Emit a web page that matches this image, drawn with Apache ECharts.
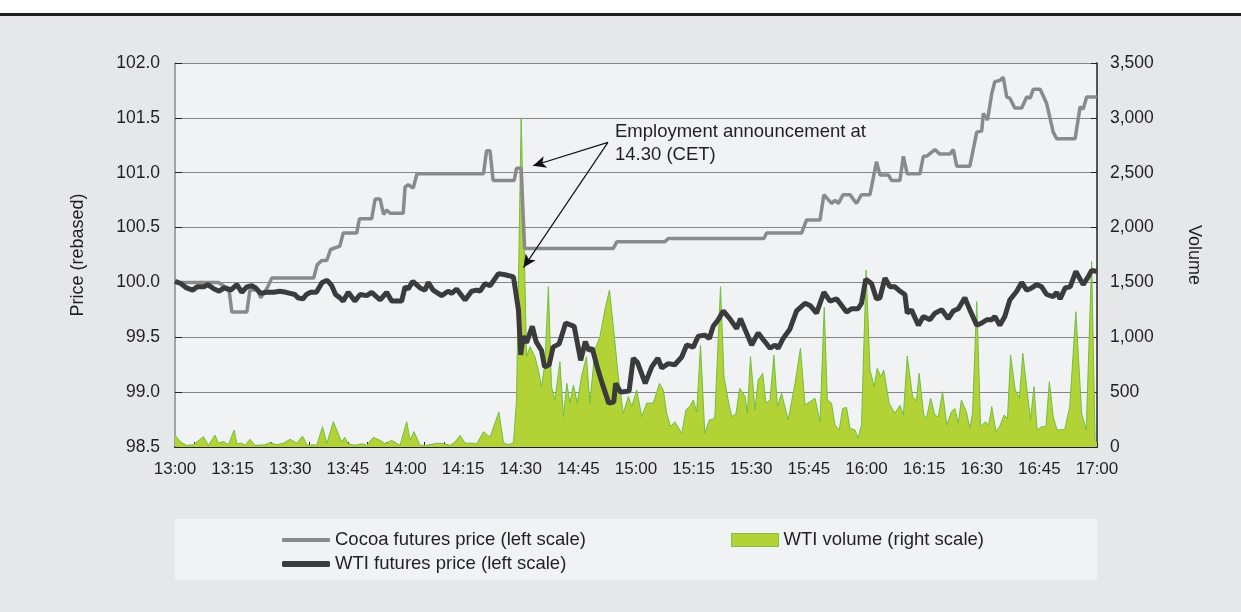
<!DOCTYPE html>
<html>
<head>
<meta charset="utf-8">
<script src="https://cdn.jsdelivr.net/npm/echarts@6/dist/echarts.min.js"></script>
<style>
  html, body { margin: 0; padding: 0; background: #fff; }
  #chart { width: 1241px; height: 612px; }
</style>
</head>
<body>
<div id="chart"></div>
<script>
// minutes after 13:00
const timeLabels = ['13:00', '13:15', '13:30', '13:45', '14:00', '14:15', '14:30', '14:45', '15:00',
  '15:15', '15:30', '15:45', '16:00', '16:15', '16:30', '16:45', '17:00']

const cocoaTimes = [0, 11.3, 13.0, 14.0, 14.8, 18.7, 19.5, 21.5, 22.3, 24.0, 25.2, 36.1, 37.0, 38.2, 39.5,
  40.5, 42.9, 43.8, 47.3, 48.0, 51.2, 52.1, 53.4, 54.3, 55.1, 56.0, 59.4, 59.9, 60.7, 62.0, 63.0, 80.3,
  81.1, 82.0, 82.8, 88.3, 88.9, 90.1, 91.0, 114.1, 115.0, 127.5, 128.4, 153.3, 154.0, 163.1, 164.4, 167.9,
  168.9, 170.9, 171.8, 172.7, 173.9, 175.7, 177.4, 178.7, 180.9, 182.6, 183.5, 185.7, 186.5, 188.7, 189.6,
  190.6, 193.9, 194.8, 195.6, 197.8, 199.1, 201.7, 202.6, 203.5, 206.9, 208.7, 210.0, 210.4, 211.5, 212.6,
  213.4, 214.7, 215.6, 216.5, 217.3, 218.6, 220.4, 221.7, 222.6, 223.4, 225.2, 226.9, 228.6, 229.5, 234.3,
  235.6, 236.4, 237.3, 240]
const cocoaPrices = [100.00, 100.00, 99.96, 99.95, 99.73, 99.73, 99.93, 99.93, 99.86, 99.95, 100.04, 100.04,
  100.16, 100.20, 100.20, 100.30, 100.33, 100.45, 100.45, 100.58, 100.58, 100.76, 100.76, 100.62, 100.66,
  100.63, 100.63, 100.87, 100.89, 100.86, 100.99, 100.99, 101.20, 101.20, 100.93, 100.93, 101.04, 101.04,
  100.31, 100.31, 100.37, 100.37, 100.40, 100.40, 100.45, 100.45, 100.57, 100.57, 100.80, 100.72, 100.75,
  100.72, 100.80, 100.80, 100.72, 100.80, 100.80, 101.10, 100.98, 100.98, 100.93, 100.93, 101.15, 100.99,
  100.99, 101.15, 101.15, 101.21, 101.17, 101.17, 101.21, 101.06, 101.06, 101.37, 101.38, 101.54, 101.48,
  101.72, 101.83, 101.84, 101.87, 101.69, 101.68, 101.59, 101.59, 101.69, 101.68, 101.76, 101.76, 101.63,
  101.37, 101.31, 101.31, 101.60, 101.58, 101.69, 101.69]

const wtiTimes = [0, 1.5, 3, 4.6, 5.8, 7.5, 8.5, 10.2, 11.5, 12.8, 14.5, 16.1, 17.4, 18.7, 20, 21, 22.3, 23.8,
  25.7, 27.3, 28.9, 31.2, 32, 33.3, 34.2, 35.3, 36.8, 38.3, 39.6, 40.8, 41.8, 42.9, 43.8, 45.1, 46.8, 48.2,
  49.9, 51.2, 53.4, 55.1, 56.4, 59.0, 59.9, 60.7, 61.9, 63.8, 65.1, 65.9, 67.2, 69.4, 71.1, 72.0, 73.3, 75.5,
  77.2, 78.5, 79.4, 80.7, 82.0, 84.2, 85.9, 88.1, 89.4, 90.0, 90.6, 91.5, 93.0, 94.0, 95.4, 96.2, 97.4, 98.4,
  100.0, 101.7, 103.9, 105.6, 106.8, 107.7, 108.6, 109.9, 111.2, 112.9, 114.2, 114.7, 116.0, 118.2, 119.3,
  120.4, 122.4, 124.1, 125.7, 126.7, 128.4, 130.1, 131.9, 133.2, 134.9, 136.2, 137.9, 139.1, 140.1, 141.4,
  142.7, 144.4, 146.2, 147.2, 148.4, 150.1, 151.8, 153.1, 154.9, 156.2, 157.0, 158.3, 160.0, 161.8, 164.0,
  165.3, 167.0, 168.9, 170.5, 172.2, 173.1, 174.8, 176.1, 177.8, 178.7, 179.8, 181.3, 182.6, 183.5, 184.8,
  186.1, 187.4, 188.7, 190.0, 190.6, 191.7, 193.5, 194.8, 196.5, 197.8, 199.6, 201.3, 202.6, 203.9, 205.6,
  206.9, 208.7, 210.0, 211.3, 212.6, 213.4, 214.7, 216.0, 217.3, 219.1, 220.4, 221.7, 223.0, 224.3, 225.6,
  226.9, 228.6, 229.5, 230.4, 231.7, 233.0, 234.5, 236.4, 237.7, 238.6, 240]
const wtiPrices = [100.01, 99.99, 99.95, 99.93, 99.96, 99.96, 99.98, 99.94, 99.92, 99.95, 99.93, 99.98, 99.91,
  99.96, 99.97, 99.95, 99.90, 99.91, 99.91, 99.92, 99.91, 99.89, 99.86, 99.85, 99.89, 99.91, 99.91, 100.00,
  100.02, 99.97, 99.89, 99.86, 99.83, 99.91, 99.83, 99.89, 99.88, 99.91, 99.84, 99.91, 99.83, 99.83, 99.96,
  99.94, 100.01, 99.95, 99.93, 100.00, 99.93, 99.88, 99.92, 99.90, 99.94, 99.84, 99.92, 99.93, 99.92, 99.99,
  99.97, 100.08, 100.07, 100.05, 99.75, 99.34, 99.51, 99.45, 99.60, 99.46, 99.38, 99.23, 99.25, 99.41, 99.44,
  99.63, 99.60, 99.29, 99.46, 99.38, 99.40, 99.23, 99.08, 98.90, 98.91, 99.08, 99.00, 99.01, 99.31, 99.27,
  99.08, 99.23, 99.31, 99.22, 99.26, 99.25, 99.32, 99.43, 99.41, 99.51, 99.52, 99.49, 99.60, 99.66, 99.74,
  99.67, 99.58, 99.67, 99.57, 99.43, 99.54, 99.48, 99.40, 99.43, 99.40, 99.49, 99.57, 99.74, 99.81, 99.79,
  99.72, 99.91, 99.83, 99.85, 99.81, 99.73, 99.76, 99.76, 99.81, 100.03, 99.99, 99.85, 99.86, 100.04, 99.96,
  99.96, 99.92, 99.89, 99.72, 99.75, 99.61, 99.69, 99.66, 99.72, 99.75, 99.67, 99.74, 99.76, 99.86, 99.75,
  99.61, 99.63, 99.66, 99.66, 99.69, 99.61, 99.69, 99.84, 99.92, 100.00, 99.93, 99.95, 99.98, 99.96, 99.89,
  99.87, 99.91, 99.85, 99.95, 99.96, 100.10, 99.98, 100.05, 100.11, 100.10]

const volumeTimes = [0, 1.3, 3.0, 4.8, 7.4, 8.7, 10.4, 11.3, 12.6, 13.9, 15.4, 16.1, 17.4, 18.2, 19.5, 20.8,
  23.4, 24.7, 26.5, 28.2, 30.0, 31.7, 33.2, 34.4, 36.0, 36.9, 38.4, 39.5, 41.2, 43.4, 44.2, 45.1, 46.8, 48.6,
  49.9, 51.6, 53.4, 54.7, 56.4, 58.6, 60.3, 61.2, 62.2, 63.8, 65.5, 68.1, 69.9, 71.6, 72.9, 74.2, 75.5, 77.7,
  78.5, 80.3, 82.0, 84.3, 85.5, 86.8, 88.1, 88.9, 90.1, 90.8, 91.5, 92.4, 93.7, 94.6, 95.4, 96.3, 97.2, 98.0,
  98.9, 100.2, 101.1, 102.0, 102.8, 103.7, 104.7, 105.8, 107.1, 108.0, 109.3, 110.6, 111.9, 113.1, 114.1,
  115.4, 116.7, 118.0, 118.9, 120.2, 121.5, 122.8, 124.5, 126.1, 127.1, 128.0, 129.0, 130.1, 131.9, 133.0,
  134.0, 134.9, 135.8, 136.8, 137.9, 139.1, 140.5, 142.0, 142.9, 144.0, 144.9, 146.0, 147.0, 148.4, 149.0,
  149.8, 151.0, 151.8, 153.0, 153.8, 154.9, 155.9, 156.8, 157.9, 159.6, 161.4, 162.8, 164.0, 166.6, 167.9,
  169.0, 169.8, 170.9, 171.8, 172.9, 173.8, 174.8, 175.7, 177.0, 177.8, 178.7, 179.9, 180.9, 182.0, 182.8,
  183.7, 184.5, 185.9, 187.4, 188.7, 189.6, 190.6, 192.0, 193.0, 193.7, 194.9, 195.6, 196.7, 197.8, 198.7,
  199.8, 200.9, 202.1, 203.0, 203.9, 204.7, 206.0, 206.9, 207.6, 208.7, 209.7, 210.9, 211.8, 212.6, 213.7,
  214.7, 215.8, 216.7, 217.5, 218.7, 219.8, 220.7, 221.7, 222.7, 223.6, 224.4, 225.6, 226.7, 227.6, 228.6,
  229.6, 231.6, 232.9, 234.5, 236.0, 237.2, 238.6, 239.5, 240]
const volumes = [110, 50, 15, 20, 94, 15, 109, 35, 50, 20, 155, 30, 35, 15, 70, 15, 20, 40, 20, 35, 70, 35, 100,
  15, 20, 15, 185, 30, 231, 45, 88, 30, 15, 30, 15, 88, 61, 30, 61, 15, 231, 61, 140, 15, 15, 35, 30, 15, 45,
  106, 35, 35, 25, 140, 88, 320, 40, 20, 40, 428, 3000, 2000, 823, 914, 823, 700, 550, 763, 1461, 550, 428, 778,
  276, 580, 400, 565, 400, 641, 823, 400, 884, 1005, 1249, 1431, 1096, 641, 307, 460, 370, 520, 276, 400, 400,
  580, 520, 307, 185, 230, 124, 337, 370, 428, 320, 929, 124, 246, 260, 1461, 641, 428, 276, 300, 535, 460, 307,
  823, 337, 611, 672, 400, 428, 838, 370, 489, 246, 580, 899, 383, 444, 228, 1273, 428, 400, 200, 155, 352, 360,
  170, 155, 79, 200, 1613, 702, 550, 717, 640, 702, 398, 307, 380, 290, 829, 458, 420, 672, 292, 260, 444, 290,
  275, 504, 200, 322, 350, 215, 428, 320, 170, 307, 1325, 185, 230, 200, 368, 140, 190, 292, 260, 838, 520, 444,
  853, 540, 250, 550, 155, 185, 185, 595, 276, 155, 160, 368, 1233, 307, 155, 1690, 60, 40]

const zip = (xs, ys) => xs.map((x, i) => [x, ys[i]])

const font = '"Liberation Sans", Arial, sans-serif'
const textColor = '#231f20'

const chart = echarts.init(document.getElementById('chart'))
chart.setOption({
  animation: false,
  backgroundColor: '#e6e7e8',
  textStyle: { fontFamily: font },
  graphic: [
    { type: 'rect', shape: { x: 0, y: 0, width: 1241, height: 13 }, style: { fill: '#ffffff' }, z: -1 },
    { type: 'rect', shape: { x: 0, y: 13, width: 1241, height: 3 }, style: { fill: '#231f20' }, z: -1 },
    { type: 'rect', shape: { x: 175, y: 519, width: 922, height: 61 }, style: { fill: '#f1f2f4' }, z: -1 },
    {
      type: 'text', left: 615, top: 120, z: 10,
      style: {
        text: 'Employment announcement at\n14.30 (CET)',
        font: '18.5px ' + font, fill: textColor, lineHeight: 23
      }
    }
  ],
  grid: {
    left: 175, right: 144, top: 63, bottom: 165,
    show: true, backgroundColor: '#f1f2f4', borderWidth: 0
  },
  legend: [
    {
      left: 277, top: 525, itemWidth: 48, itemHeight: 4,
      textStyle: { fontSize: 18.5, color: textColor, fontFamily: font, lineHeight: 20 },
      data: [{ name: 'Cocoa futures price (left scale)', icon: 'roundRect', itemStyle: { color: '#8a8a8a' } }]
    },
    {
      left: 277, top: 549, itemWidth: 48, itemHeight: 6,
      textStyle: { fontSize: 18.5, color: textColor, fontFamily: font, lineHeight: 20 },
      data: [{ name: 'WTI futures price (left scale)', icon: 'roundRect', itemStyle: { color: '#3b3b3b' } }]
    },
    {
      left: 726, top: 525, itemWidth: 47, itemHeight: 13,
      textStyle: { fontSize: 18.5, color: textColor, fontFamily: font, lineHeight: 20 },
      data: [{
        name: 'WTI volume (right scale)', icon: 'rect',
        itemStyle: { color: '#b2d235', borderColor: '#7cc24a', borderWidth: 1 }
      }]
    }
  ],
  xAxis: {
    type: 'value', min: 0, max: 240, interval: 15,
    axisLine: { lineStyle: { color: '#231f20', width: 2 } },
    axisTick: { inside: true, length: 5, lineStyle: { color: '#231f20' } },
    minorTick: { show: true, splitNumber: 3, length: 5, lineStyle: { color: '#231f20' } },
    splitLine: { show: false },
    axisLabel: {
      margin: 14, fontSize: 17, color: textColor,
      formatter: v => timeLabels[Math.round(v / 15)]
    }
  },
  yAxis: [
    {
      type: 'value', min: 98.5, max: 102, interval: 0.5,
      name: 'Price (rebased)', nameLocation: 'middle', nameGap: 88, nameRotate: 90,
      nameTextStyle: { fontSize: 18, color: textColor },
      axisLine: { show: true, lineStyle: { color: '#8a8a8a', width: 1.5 } },
      axisTick: { show: true, inside: true, length: 7, lineStyle: { color: '#231f20' } },
      splitLine: { lineStyle: { color: '#858585', width: 1.2 } },
      axisLabel: { margin: 15, fontSize: 17.5, color: textColor, formatter: v => v.toFixed(1) }
    },
    {
      type: 'value', min: 0, max: 3500, interval: 500,
      name: 'Volume', nameLocation: 'middle', nameGap: 88, nameRotate: -90,
      nameTextStyle: { fontSize: 18, color: textColor },
      axisLine: { show: true, lineStyle: { color: '#231f20', width: 1.5 } },
      axisTick: { show: true, inside: true, length: 6, lineStyle: { color: '#231f20' } },
      splitLine: { show: false },
      axisLabel: { margin: 13, fontSize: 17.5, color: textColor, formatter: v => v.toLocaleString('en-US') }
    }
  ],
  series: [
    {
      name: 'WTI volume (right scale)', type: 'line', yAxisIndex: 1,
      symbol: 'none', color: '#b2d235',
      lineStyle: { color: '#6fbf44', width: 1 },
      areaStyle: { color: '#b2d235', opacity: 1 },
      data: zip(volumeTimes, volumes), z: 2
    },
    {
      name: 'Cocoa futures price (left scale)', type: 'line',
      symbol: 'none', color: '#8a8a8a',
      lineStyle: { color: '#8a8a8a', width: 3.5 },
      data: zip(cocoaTimes, cocoaPrices), z: 3
    },
    {
      name: 'WTI futures price (left scale)', type: 'line',
      symbol: 'none', color: '#3b3b3b',
      lineStyle: { color: '#3b3b3b', width: 5 },
      data: zip(wtiTimes, wtiPrices), z: 4,
      markLine: {
        silent: true, symbol: ['none', 'arrow'], symbolSize: [9, 13],
        lineStyle: { color: '#111111', width: 1.2, type: 'solid' },
        itemStyle: { color: '#111111' },
        label: { show: false },
        data: [
          [{ coord: [112.7, 101.277] }, { coord: [93.2, 101.063] }],
          [{ coord: [112.7, 101.277] }, { coord: [90.7, 100.135] }]
        ]
      }
    }
  ]
})
</script>
</body>
</html>
